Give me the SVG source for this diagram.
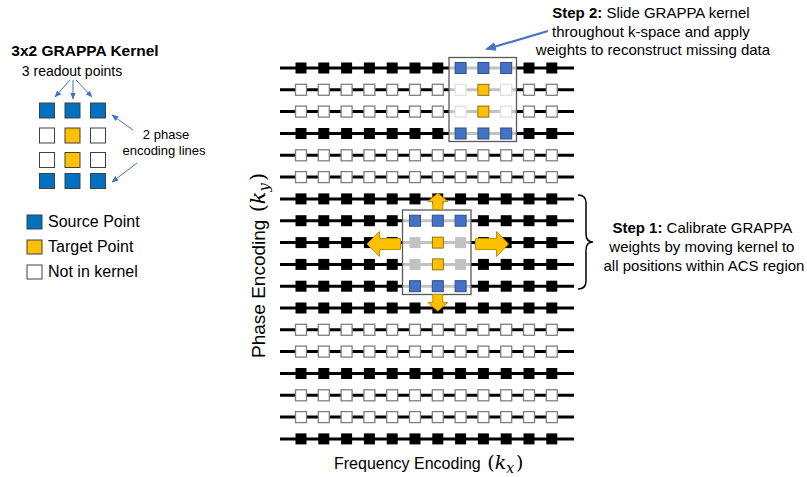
<svg xmlns="http://www.w3.org/2000/svg" width="807" height="477" viewBox="0 0 807 477">
<style>
text{font-family:"Liberation Sans",Arial,sans-serif;fill:#000}
.math{font-family:"DejaVu Serif","Liberation Serif",serif}
.ln{stroke:#000;stroke-width:3}
.sb{fill:#000}
.sw{fill:#fff;stroke:#7f7f7f;stroke-width:1.3}
.blue{fill:#4472C4;stroke:#2F528F;stroke-width:1}
.yel{fill:#FFC000;stroke:#7F6000;stroke-width:0.8}
.lblue{fill:#0070C0;stroke:#404040;stroke-width:1}
.lyel{fill:#FFC000;stroke:#404040;stroke-width:1}
.lwh{fill:#fff;stroke:#404040;stroke-width:1}
.ov{fill:#fff;fill-opacity:.76;stroke:#595959;stroke-width:1.3}
.ya{fill:#FFC000;stroke:#BF9000;stroke-width:1}
.ba{stroke:#4472C4;stroke-width:1;fill:none}
.ba2{stroke:#4472C4;stroke-width:2.2;fill:none}
</style>
<defs>
<marker id="ah" viewBox="0 0 10 10" refX="9" refY="5" markerWidth="7" markerHeight="7" orient="auto" markerUnits="userSpaceOnUse"><path d="M0,1 L10,5 L0,9 z" fill="#4472C4"/></marker>
<marker id="ah2" viewBox="0 0 10 10" refX="8" refY="5" markerWidth="11" markerHeight="11" orient="auto" markerUnits="userSpaceOnUse"><path d="M0,1 L10,5 L0,9 z" fill="#4472C4"/></marker>
<g id="rowB">
<line class="ln" x1="280" y1="0" x2="574" y2="0"/>
<rect class="sb" x="295.5" y="-5.5" width="11" height="11"/>
<rect class="sb" x="318.3" y="-5.5" width="11" height="11"/>
<rect class="sb" x="341.1" y="-5.5" width="11" height="11"/>
<rect class="sb" x="363.9" y="-5.5" width="11" height="11"/>
<rect class="sb" x="386.7" y="-5.5" width="11" height="11"/>
<rect class="sb" x="409.5" y="-5.5" width="11" height="11"/>
<rect class="sb" x="432.3" y="-5.5" width="11" height="11"/>
<rect class="sb" x="455.1" y="-5.5" width="11" height="11"/>
<rect class="sb" x="477.9" y="-5.5" width="11" height="11"/>
<rect class="sb" x="500.7" y="-5.5" width="11" height="11"/>
<rect class="sb" x="523.5" y="-5.5" width="11" height="11"/>
<rect class="sb" x="546.3" y="-5.5" width="11" height="11"/>
</g>
<g id="rowW">
<line class="ln" x1="280" y1="0" x2="574" y2="0"/>
<rect class="sw" x="295.5" y="-5.5" width="11" height="11"/>
<rect class="sw" x="318.3" y="-5.5" width="11" height="11"/>
<rect class="sw" x="341.1" y="-5.5" width="11" height="11"/>
<rect class="sw" x="363.9" y="-5.5" width="11" height="11"/>
<rect class="sw" x="386.7" y="-5.5" width="11" height="11"/>
<rect class="sw" x="409.5" y="-5.5" width="11" height="11"/>
<rect class="sw" x="432.3" y="-5.5" width="11" height="11"/>
<rect class="sw" x="455.1" y="-5.5" width="11" height="11"/>
<rect class="sw" x="477.9" y="-5.5" width="11" height="11"/>
<rect class="sw" x="500.7" y="-5.5" width="11" height="11"/>
<rect class="sw" x="523.5" y="-5.5" width="11" height="11"/>
<rect class="sw" x="546.3" y="-5.5" width="11" height="11"/>
</g>
</defs>

<!-- Legend -->
<g id="legend-kernel">
<text x="85" y="56" font-size="15.5" font-weight="bold" text-anchor="middle">3x2 GRAPPA Kernel</text>
<text x="72" y="76" font-size="14" text-anchor="middle">3 readout points</text>
<rect class="lblue" x="39.5" y="103" width="15" height="15"/>
<rect class="lblue" x="65" y="103" width="15" height="15"/>
<rect class="lblue" x="90.5" y="103" width="15" height="15"/>
<rect class="lwh" x="39.5" y="128" width="15" height="15"/>
<rect class="lyel" x="65" y="128" width="15" height="15"/>
<rect class="lwh" x="90.5" y="128" width="15" height="15"/>
<rect class="lwh" x="39.5" y="152.5" width="15" height="15"/>
<rect class="lyel" x="65" y="152.5" width="15" height="15"/>
<rect class="lwh" x="90.5" y="152.5" width="15" height="15"/>
<rect class="lblue" x="39.5" y="173.5" width="15" height="15"/>
<rect class="lblue" x="65" y="173.5" width="15" height="15"/>
<rect class="lblue" x="90.5" y="173.5" width="15" height="15"/>
<text x="166" y="139" font-size="13" text-anchor="middle">2 phase</text>
<text x="164" y="155" font-size="13" text-anchor="middle">encoding lines</text>
</g>
<g id="legend-keys">
<rect class="lblue" x="27" y="215" width="15" height="14"/>
<text x="48" y="227" font-size="16">Source Point</text>
<rect class="lyel" x="27" y="240" width="15" height="14"/>
<text x="48" y="252" font-size="16">Target Point</text>
<rect class="lwh" x="27" y="265" width="15" height="14"/>
<text x="48" y="277" font-size="16">Not in kernel</text>
</g>

<!-- k-space grid -->
<g id="kspace">
<use href="#rowB" y="68"/>
<use href="#rowW" y="89.8"/>
<use href="#rowW" y="111.6"/>
<use href="#rowB" y="133.5"/>
<use href="#rowW" y="155.3"/>
<use href="#rowW" y="177.1"/>
<use href="#rowB" y="198.9"/>
<use href="#rowB" y="220.7"/>
<use href="#rowB" y="242.6"/>
<use href="#rowB" y="264.4"/>
<use href="#rowB" y="286.2"/>
<use href="#rowB" y="308"/>
<use href="#rowW" y="329.8"/>
<use href="#rowW" y="351.6"/>
<use href="#rowB" y="373.5"/>
<use href="#rowW" y="395.3"/>
<use href="#rowW" y="417.1"/>
<use href="#rowB" y="438.9"/>
</g>

<g id="kernel-step2">
<rect class="ov" x="449" y="57.5" width="67.5" height="84"/>
<rect class="blue" x="455.1" y="62.5" width="11" height="11"/>
<rect class="blue" x="477.9" y="62.5" width="11" height="11"/>
<rect class="blue" x="500.7" y="62.5" width="11" height="11"/>
<rect class="yel" x="477.9" y="84.3" width="11" height="11"/>
<rect class="yel" x="477.9" y="106.1" width="11" height="11"/>
<rect class="blue" x="455.1" y="128" width="11" height="11"/>
<rect class="blue" x="477.9" y="128" width="11" height="11"/>
<rect class="blue" x="500.7" y="128" width="11" height="11"/>
</g>

<g id="kernel-step1">
<rect class="ov" x="402.5" y="210" width="68.5" height="84.5"/>
<rect class="blue" x="409.5" y="215.2" width="11" height="11"/>
<rect class="blue" x="432.3" y="215.2" width="11" height="11"/>
<rect class="blue" x="455.1" y="215.2" width="11" height="11"/>
<rect class="yel" x="432.3" y="237.1" width="11" height="11"/>
<rect class="yel" x="432.3" y="258.9" width="11" height="11"/>
<rect class="blue" x="409.5" y="280.7" width="11" height="11"/>
<rect class="blue" x="432.3" y="280.7" width="11" height="11"/>
<rect class="blue" x="455.1" y="280.7" width="11" height="11"/>
<polygon class="ya" points="437.8,193.3 447.8,201.5 442.8,201.5 442.8,209.5 432.8,209.5 432.8,201.5 427.8,201.5"/>
<polygon class="ya" points="432.8,294.5 442.8,294.5 442.8,302.5 447.8,302.5 437.8,311 427.8,302.5 432.8,302.5"/>
<polygon class="ya" points="475.5,238.5 496.5,238.5 496.5,231.5 508.5,244 496.5,256.5 496.5,249.5 475.5,249.5"/>
<polygon class="ya" points="400.5,238.5 379.5,238.5 379.5,231.5 367,244 379.5,256.5 379.5,249.5 400.5,249.5"/>
</g>

<g id="brace">
<path d="M578,195 Q586,195 586,203 L586,234 Q586,242 593,242 Q586,242 586,250 L586,281 Q586,289 578,289" fill="none" stroke="#000" stroke-width="1.5"/>
</g>

<g id="step1-label">
<text font-size="15" text-anchor="middle">
<tspan x="704" y="233"><tspan font-weight="bold">Step 1:</tspan> Calibrate GRAPPA</tspan>
<tspan x="704" y="252">weights by moving kernel to</tspan>
<tspan x="704" y="271">all positions within ACS region</tspan>
</text>
</g>

<g id="step2-label">
<text font-size="15" text-anchor="middle">
<tspan x="653" y="18"><tspan font-weight="bold">Step 2:</tspan> Slide GRAPPA kernel</tspan>
<tspan x="653" y="36.5">throughout k-space and apply</tspan>
<tspan x="653" y="55">weights to reconstruct missing data</tspan>
</text>
</g>

<g id="axis-labels">
<text x="334" y="468.5" font-size="16">Frequency Encoding <tspan class="math" font-size="19" dx="2">(</tspan><tspan class="math" font-size="19" font-style="italic" dx="0">k</tspan><tspan class="math" font-size="14" font-style="italic" dx="0" dy="4">x</tspan><tspan class="math" font-size="19" dx="2" dy="-4">)</tspan></text>
<text transform="rotate(-90)" x="-358" y="265" font-size="19">Phase Encoding <tspan class="math" font-size="21" dx="2">(</tspan><tspan class="math" font-size="21" font-style="italic" dx="0">k</tspan><tspan class="math" font-size="15" font-style="italic" dx="0" dy="4">y</tspan><tspan class="math" font-size="21" dx="2" dy="-4">)</tspan></text>
</g>

<g id="connectors">
<line class="ba" x1="70" y1="80" x2="55" y2="97" marker-end="url(#ah)"/>
<line class="ba" x1="73" y1="80" x2="73" y2="99" marker-end="url(#ah)"/>
<line class="ba" x1="76" y1="80" x2="92" y2="97" marker-end="url(#ah)"/>
<line class="ba" x1="133" y1="130" x2="112" y2="115" marker-end="url(#ah)"/>
<line class="ba" x1="137" y1="163" x2="112" y2="182" marker-end="url(#ah)"/>
<line class="ba2" x1="548" y1="31" x2="487" y2="49" marker-end="url(#ah2)"/>
</g>
</svg>
